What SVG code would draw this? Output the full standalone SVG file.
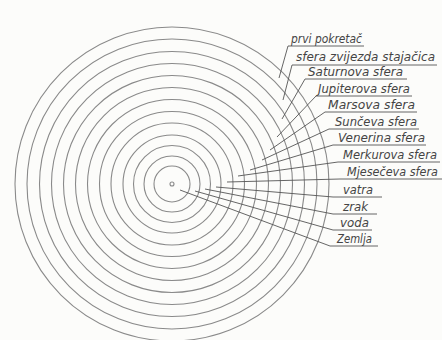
<svg xmlns="http://www.w3.org/2000/svg" width="442" height="340" viewBox="0 0 442 340">
<style>
.bg{fill:#fcfcfa}
.ring{fill:none;stroke:#8a8a8a;stroke-width:1.1}
.ld{fill:none;stroke:#555;stroke-width:0.9}
.lb{font-family:"DejaVu Sans","Liberation Sans",sans-serif;font-style:italic;font-size:11.5px;fill:#444}
</style>
<rect class="bg" x="0" y="0" width="442" height="340"/>
<g id="spheres">
<circle class="ring" cx="172" cy="184" r="2"/>
<circle class="ring" cx="172" cy="184" r="18"/>
<circle class="ring" cx="172" cy="184" r="28"/>
<circle class="ring" cx="172" cy="184" r="38.5"/>
<circle class="ring" cx="172" cy="184" r="49"/>
<circle class="ring" cx="172" cy="184" r="61"/>
<circle class="ring" cx="172" cy="184" r="72.5"/>
<circle class="ring" cx="172" cy="184" r="84.5"/>
<circle class="ring" cx="172" cy="184" r="96.5"/>
<circle class="ring" cx="172" cy="184" r="108.5"/>
<circle class="ring" cx="172" cy="184" r="120.5"/>
<circle class="ring" cx="172" cy="184" r="132.5"/>
<circle class="ring" cx="172" cy="184" r="145"/>
<circle class="ring" cx="172" cy="184" r="157"/>
</g>
<g id="connectors">
<polyline class="ld" points="279,78 288,46 364,46"/>
<polyline class="ld" points="283,100 292,65 437,65"/>
<polyline class="ld" points="282,119 305,79 407,79"/>
<polyline class="ld" points="277,137 316,96 412,96"/>
<polyline class="ld" points="270,150 325,112 417,112"/>
<polyline class="ld" points="262,160 329,129 419,129"/>
<polyline class="ld" points="250,170 333,145 426,145"/>
<polyline class="ld" points="238,176 338,162 440,162"/>
<polyline class="ld" points="227,182 340,179 442,179"/>
<polyline class="ld" points="216,187 333,197 382,197"/>
<polyline class="ld" points="205,189 333,214 377,214"/>
<polyline class="ld" points="195,191 333,230 372,230"/>
<polyline class="ld" points="180,190 330,246 378,246"/>
</g>
<g id="prvi-pokretac"><text class="lb" x="291" y="43" textLength="71" lengthAdjust="spacingAndGlyphs">prvi pokretač</text></g>
<g id="sfera-zvijezda-stajacica"><text class="lb" x="296" y="61" textLength="139" lengthAdjust="spacingAndGlyphs">sfera zvijezda stajačica</text></g>
<g id="saturnova-sfera"><text class="lb" x="308" y="76" textLength="95" lengthAdjust="spacingAndGlyphs">Saturnova sfera</text></g>
<g id="jupiterova-sfera"><text class="lb" x="318" y="93" textLength="92" lengthAdjust="spacingAndGlyphs">Jupiterova sfera</text></g>
<g id="marsova-sfera"><text class="lb" x="328" y="109" textLength="87" lengthAdjust="spacingAndGlyphs">Marsova sfera</text></g>
<g id="munceva-sfera"><text class="lb" x="335" y="126" textLength="82" lengthAdjust="spacingAndGlyphs">Sunčeva sfera</text></g>
<g id="venerina-sfera"><text class="lb" x="338" y="142" textLength="87" lengthAdjust="spacingAndGlyphs">Venerina sfera</text></g>
<g id="merkurova-sfera"><text class="lb" x="343" y="159" textLength="94" lengthAdjust="spacingAndGlyphs">Merkurova sfera</text></g>
<g id="mjeseceva-sfera"><text class="lb" x="347" y="176" textLength="91" lengthAdjust="spacingAndGlyphs">Mjesečeva sfera</text></g>
<g id="vatra"><text class="lb" x="343" y="194" textLength="30" lengthAdjust="spacingAndGlyphs">vatra</text></g>
<g id="zrak"><text class="lb" x="343" y="211" textLength="25" lengthAdjust="spacingAndGlyphs">zrak</text></g>
<g id="voda"><text class="lb" x="340" y="227" textLength="29" lengthAdjust="spacingAndGlyphs">voda</text></g>
<g id="zemlja"><text class="lb" x="337" y="243" textLength="35" lengthAdjust="spacingAndGlyphs">Zemlja</text></g>
</svg>
